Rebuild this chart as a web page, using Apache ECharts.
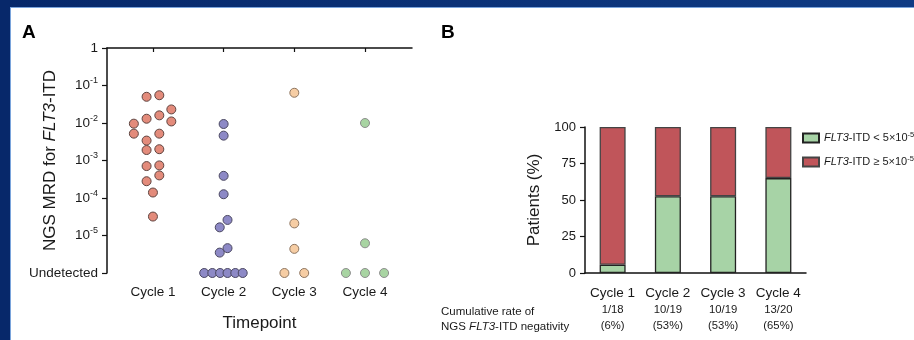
<!DOCTYPE html>
<html>
<head>
<meta charset="utf-8">
<script src="https://cdn.jsdelivr.net/npm/echarts@6/dist/echarts.min.js"></script>
<style>
html, body { margin: 0; padding: 0; background: #fff; }
#main { width: 914px; height: 340px; }
</style>
</head>
<body>
<div id="main"></div>
<script>
var cycles = ['Cycle 1', 'Cycle 2', 'Cycle 3', 'Cycle 4'];

// Panel A: NGS MRD per patient (0 = undetected), with the sideways spread of each dot
var mrdC1 = [5.0e-2, 5.5e-2, 2.3e-2, 9.6e-3, 1.3e-2, 1.6e-2, 1.1e-2, 5.2e-3, 5.2e-3, 3.4e-3,
             1.9e-3, 2.0e-3, 7.1e-4, 7.4e-4, 4.0e-4, 2.8e-4, 1.4e-4, 3.2e-5];
var jitC1 = [-0.09, 0.09, 0.26, -0.27, -0.09, 0.09, 0.26, -0.27, 0.09, -0.09,
             -0.09, 0.09, -0.09, 0.09, 0.09, -0.09, 0, 0];
var mrdC2 = [9.4e-3, 4.6e-3, 3.9e-4, 1.26e-4, 2.6e-5, 1.65e-5, 4.6e-6, 3.5e-6, 0, 0, 0, 0, 0, 0];
var jitC2 = [0, 0, 0, 0, 0.055, -0.055, 0.055, -0.055, -0.275, -0.16, -0.05, 0.055, 0.165, 0.27];
var mrdC3 = [6.4e-2, 2.1e-5, 4.4e-6, 0, 0];
var jitC3 = [0, 0, 0, -0.14, 0.14];
var mrdC4 = [1.0e-2, 6.2e-6, 0, 0, 0];
var jitC4 = [0, 0, -0.27, 0, 0.27];

// Panel B: % patients by FLT3-ITD level
var belowPct = [5.6, 52.6, 52.6, 65];
var abovePct = [94.4, 47.4, 47.4, 35];
var rateCounts = ['1/18', '10/19', '10/19', '13/20'];
var ratePcts = ['(6%)', '(53%)', '(53%)', '(65%)'];

var FONT = '"Liberation Sans", Arial, sans-serif';
var INK = '#1a1a1a';

function toPoints(col, mrd, jit) {
    return mrd.map(function (v, i) {
        return [col + jit[i], v === 0 ? -6 : Math.log10(v)];
    });
}

function dots(col, mrd, jit, fill, edge) {
    return {
        type: 'scatter',
        xAxisIndex: 0,
        yAxisIndex: 0,
        symbolSize: 9,
        itemStyle: { color: fill, borderColor: edge, borderWidth: 1, opacity: 1 },
        data: toPoints(col, mrd, jit)
    };
}

var chart = echarts.init(document.getElementById('main'));

var option = {
    animation: false,
    textStyle: { fontFamily: FONT, color: INK },
    graphic: [
        { type: 'rect', shape: { x: 0, y: 0, width: 914, height: 7 },
          style: { fill: new echarts.graphic.LinearGradient(0, 0, 1, 0, [
              { offset: 0, color: '#07286a' }, { offset: 1, color: '#0f3b84' }]) } },
        { type: 'rect', shape: { x: 0, y: 0, width: 10, height: 340 }, style: { fill: '#07286a' } },
        { type: 'rect', shape: { x: 10, y: 7, width: 904, height: 1 }, style: { fill: '#7aa4dc' } },
        { type: 'rect', shape: { x: 10, y: 7, width: 1, height: 333 }, style: { fill: '#7aa4dc' } },
        { type: 'text', left: 22, top: 23,
          style: { text: 'A', font: 'bold 19px ' + FONT, fill: '#000' } },
        { type: 'text', left: 441, top: 23,
          style: { text: 'B', font: 'bold 19px ' + FONT, fill: '#000' } },
        { type: 'text', left: 441, top: 304,
          style: {
              text: 'Cumulative rate of\nNGS {i|FLT3}-ITD negativity',
              font: '11.5px ' + FONT, fill: INK, lineHeight: 15,
              rich: { i: { fontStyle: 'italic', fontSize: 11.5, fontFamily: FONT, fill: INK } }
          } }
    ],
    grid: [
        { left: 107, top: 48, width: 305, height: 225 },
        { left: 585, top: 127, width: 221, height: 146 }
    ],
    legend: {
        orient: 'vertical',
        left: 802,
        top: 131,
        padding: 0,
        itemWidth: 16,
        itemHeight: 9,
        itemGap: 10,
        icon: 'rect',
        data: ['below', 'above'],
        formatter: function (name) {
            return name === 'below' ? '{i|FLT3}-ITD < 5×10{s|-5}' : '{i|FLT3}-ITD ≥ 5×10{s|-5}';
        },
        textStyle: {
            fontSize: 11, color: INK, fontFamily: FONT, lineHeight: 14,
            rich: {
                i: { fontStyle: 'italic', fontSize: 11, fontFamily: FONT, color: INK },
                s: { fontSize: 7.5, verticalAlign: 'top', lineHeight: 8, fontFamily: FONT, color: INK }
            }
        }
    },
    xAxis: [
        {
            type: 'value',
            gridIndex: 0,
            min: 0.35,
            max: 4.665,
            z: 5,
            splitLine: { show: false },
            axisLine: { lineStyle: { color: '#111', width: 1.5 } },
            axisTick: { show: true, length: 4, customValues: [1, 2, 3, 4],
                        lineStyle: { color: '#111', width: 1.2 } },
            axisLabel: {
                customValues: [1, 2, 3, 4],
                margin: 12,
                fontSize: 13.5,
                color: INK,
                formatter: function (v) { return cycles[Math.round(v) - 1]; }
            },
            name: 'Timepoint',
            nameLocation: 'middle',
            nameGap: 42,
            nameMoveOverlap: false,
            nameTextStyle: { fontSize: 17, color: INK }
        },
        {
            type: 'category',
            gridIndex: 1,
            data: cycles,
            axisLine: { lineStyle: { color: '#111', width: 1.5 } },
            axisTick: { alignWithLabel: true, length: 4, lineStyle: { color: '#111', width: 1.2 } },
            axisLabel: {
                margin: 11,
                interval: 0,
                color: INK,
                formatter: function (v, i) {
                    return '{c|' + v + '}\n{r|' + rateCounts[i] + '}\n{r|' + ratePcts[i] + '}';
                },
                rich: {
                    c: { fontSize: 13.5, lineHeight: 18, fontFamily: FONT, color: INK },
                    r: { fontSize: 11.3, lineHeight: 16, fontFamily: FONT, color: INK }
                }
            }
        }
    ],
    yAxis: [
        {
            type: 'value',
            gridIndex: 0,
            min: -6,
            max: 0,
            interval: 1,
            splitLine: { show: false },
            axisLine: { show: true, lineStyle: { color: '#111', width: 1.5 } },
            axisTick: { show: true, length: 5, lineStyle: { color: '#111', width: 1.2 } },
            axisLabel: {
                margin: 9,
                fontSize: 13.5,
                lineHeight: 18,
                color: INK,
                formatter: function (v) {
                    if (v === 0) return '1';
                    if (v === -6) return 'Undetected';
                    return '10{s|' + v + '}';
                },
                rich: {
                    s: { fontSize: 9, verticalAlign: 'top', lineHeight: 8, fontFamily: FONT, color: INK }
                }
            },
            name: 'NGS MRD for {i|FLT3}-ITD',
            nameLocation: 'middle',
            nameGap: 48,
            nameMoveOverlap: false,
            nameTextStyle: {
                fontSize: 17, color: INK,
                rich: { i: { fontStyle: 'italic', fontSize: 17, fontFamily: FONT, color: INK } }
            }
        },
        {
            type: 'value',
            gridIndex: 1,
            min: 0,
            max: 100,
            interval: 25,
            splitLine: { show: false },
            axisLine: { show: true, lineStyle: { color: '#111', width: 1.5 } },
            axisTick: { show: true, length: 5, lineStyle: { color: '#111', width: 1.2 } },
            axisLabel: { margin: 9, fontSize: 13, color: INK },
            name: 'Patients (%)',
            nameLocation: 'middle',
            nameGap: 42,
            nameMoveOverlap: false,
            nameTextStyle: { fontSize: 17, color: INK }
        }
    ],
    series: [
        dots(1, mrdC1, jitC1, '#e38b7b', '#5e4440'),
        dots(2, mrdC2, jitC2, '#8d89c6', '#4a4760'),
        dots(3, mrdC3, jitC3, '#f6cda4', '#8d7560'),
        dots(4, mrdC4, jitC4, '#a8d4a2', '#8c8c8c'),
        {
            name: 'below',
            type: 'bar',
            xAxisIndex: 1,
            yAxisIndex: 1,
            stack: 'pct',
            barWidth: 26,
            itemStyle: { color: '#a7d3a6', borderColor: '#222', borderWidth: 1.3 },
            data: belowPct
        },
        {
            name: 'above',
            type: 'bar',
            xAxisIndex: 1,
            yAxisIndex: 1,
            stack: 'pct',
            barWidth: 26,
            itemStyle: { color: '#c0555a', borderColor: '#444', borderWidth: 1.3 },
            data: abovePct
        }
    ]
};

chart.setOption(option);
</script>
</body>
</html>
